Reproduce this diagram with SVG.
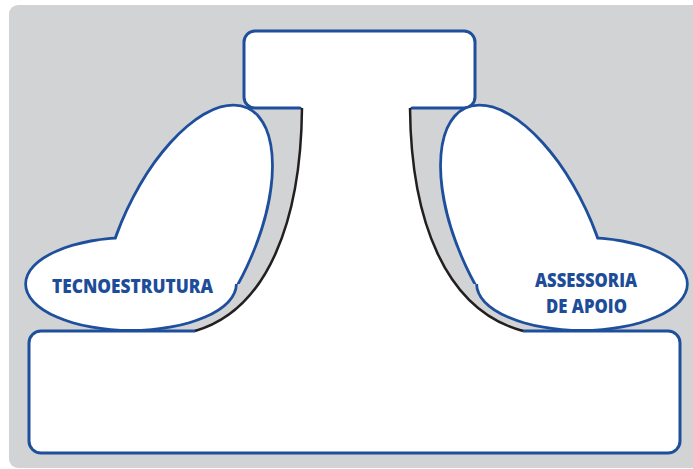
<svg xmlns="http://www.w3.org/2000/svg" width="693" height="469" viewBox="0 0 693 469">
<defs>
<style>
.box{fill:#fff;stroke:#1e4f9c;stroke-width:3}
.ol{fill:#fff;stroke:#1e4f9c;stroke-width:5.5}
.wf{fill:#fff;stroke:none}
.edge{fill:none;stroke:#231f20;stroke-width:2.5}
.lbl{font-family:"Open Sans","Liberation Sans",Arial,sans-serif;font-weight:800;font-size:19px;fill:#1d4d99;text-anchor:middle}
</style>
<clipPath id="clipTop"><rect x="0" y="0" width="693" height="284"/></clipPath>
</defs>
<rect x="9" y="5" width="720" height="463" rx="9" fill="#d1d3d4"/>
<g id="apex"><rect class="box" x="244" y="31" width="231" height="77" rx="11"/></g>
<g id="operating-core"><rect class="box" x="29" y="331" width="651" height="122" rx="12"/></g>
<g id="middle-line"><path class="wf" d="M300,106 L412,106 L410,108 C411,220 445,310 523,331 L523,333.5 L195,333.5 L195,331 C268,310 301,220 302,108 Z"/></g>
<g id="connectors">
<path class="edge" d="M302,108 C301,220 268,310 195,331"/>
<path class="edge" d="M410,108 C411,220 445,310 523,331"/>
</g>
<g id="tecnoestrutura">
<g clip-path="url(#clipTop)"><ellipse class="ol" cx="0" cy="0" rx="65" ry="142" transform="translate(187,238) rotate(25)"/></g>
<ellipse class="ol" cx="131" cy="284" rx="104" ry="45"/>
<g clip-path="url(#clipTop)"><ellipse class="wf" cx="0" cy="0" rx="65" ry="142" transform="translate(187,238) rotate(25)"/></g>
<ellipse class="wf" cx="131" cy="284" rx="104" ry="45"/>
<text class="lbl" x="132.5" y="293" textLength="161" lengthAdjust="spacingAndGlyphs">TECNOESTRUTURA</text>
</g>
<g id="assessoria">
<g clip-path="url(#clipTop)"><ellipse class="ol" cx="0" cy="0" rx="65" ry="142" transform="translate(526,238) rotate(-25)"/></g>
<ellipse class="ol" cx="582" cy="284" rx="104" ry="45"/>
<g clip-path="url(#clipTop)"><ellipse class="wf" cx="0" cy="0" rx="65" ry="142" transform="translate(526,238) rotate(-25)"/></g>
<ellipse class="wf" cx="582" cy="284" rx="104" ry="45"/>
<text class="lbl" x="586" y="287" textLength="102" lengthAdjust="spacingAndGlyphs">ASSESSORIA</text>
<text class="lbl" x="586.5" y="313" textLength="81" lengthAdjust="spacingAndGlyphs">DE APOIO</text>
</g>
</svg>
